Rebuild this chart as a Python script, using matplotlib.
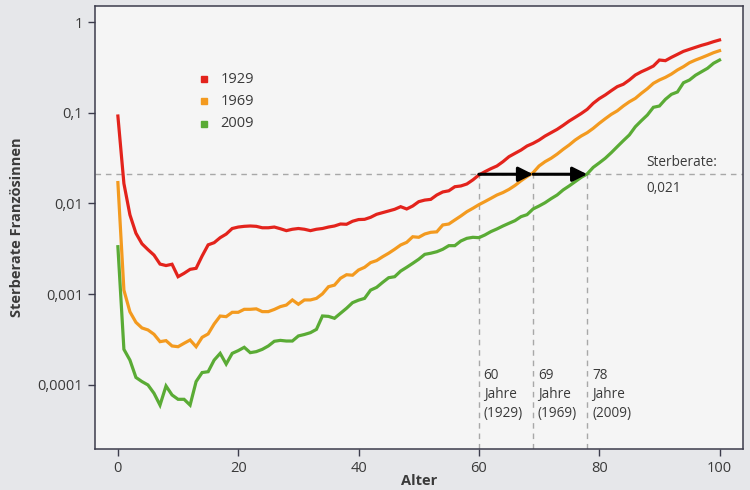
import numpy as np
import matplotlib.pyplot as plt

plt.rcParams['font.family'] = ['Open Sans', 'DejaVu Sans']

# Sterberate nach Alter (0..100 Jahre), Frauen in Frankreich
alter = np.arange(0, 101)

rate_1929 = [
    0.092, 0.0166, 0.0075, 0.0047, 0.0036, 0.0031, 0.0027, 0.00215, 0.00207, 0.00214,
    0.00156, 0.0017, 0.00188, 0.00193, 0.00264, 0.0035, 0.0037, 0.0042, 0.0046, 0.0053,
    0.0055, 0.0056, 0.00565, 0.0056, 0.0054, 0.0054, 0.0055, 0.00527, 0.00502, 0.0052,
    0.0053, 0.0052, 0.00502, 0.0052, 0.0053, 0.0055, 0.00565, 0.00594, 0.0059, 0.00637,
    0.00665, 0.00669, 0.00704, 0.0076, 0.00793, 0.00827, 0.00863, 0.00922, 0.0087, 0.00938,
    0.01047, 0.0109, 0.0111, 0.0124, 0.0134, 0.0138, 0.0153, 0.0156, 0.0164, 0.0182,
    0.0206, 0.0224, 0.0242, 0.0259, 0.0289, 0.0328, 0.0357, 0.0388, 0.043, 0.046,
    0.050, 0.0554, 0.0603, 0.0656, 0.0726, 0.081, 0.089, 0.098, 0.109, 0.127,
    0.143, 0.157, 0.175, 0.194, 0.206, 0.2295, 0.2605, 0.283, 0.303, 0.327,
    0.381, 0.375, 0.408, 0.44, 0.475, 0.50, 0.526, 0.553, 0.577, 0.607,
    0.634,
]

rate_1969 = [
    0.0170, 0.00111, 0.00064, 0.00049, 0.000425, 0.000404, 0.000362, 0.0003, 0.000308, 0.000269,
    0.000264, 0.000288, 0.000313, 0.000264, 0.000335, 0.000365, 0.00047, 0.000575, 0.000566, 0.000632,
    0.000632, 0.000682, 0.000682, 0.00069, 0.000643, 0.000643, 0.00068, 0.00073, 0.00076, 0.000865,
    0.000775, 0.000865, 0.000865, 0.0009, 0.00101, 0.00121, 0.00126, 0.0015, 0.00164, 0.00162,
    0.00185, 0.00198, 0.00223, 0.00235, 0.00259, 0.00283, 0.00313, 0.00349, 0.00373, 0.0043,
    0.00424, 0.00461, 0.00481, 0.00487, 0.0058, 0.00594, 0.00658, 0.00728, 0.00812, 0.00885,
    0.0097, 0.0105, 0.0114, 0.0124, 0.0132, 0.0143, 0.0158, 0.0178, 0.0198, 0.0218,
    0.0259, 0.0289, 0.0315, 0.035, 0.0395, 0.0441, 0.050, 0.0554, 0.0603, 0.0673,
    0.0764, 0.0859, 0.096, 0.105, 0.1186, 0.132, 0.144, 0.1637, 0.184, 0.211,
    0.2295, 0.2455, 0.267, 0.296, 0.322, 0.356, 0.381, 0.404, 0.43, 0.459,
    0.483,
]

rate_2009 = [
    0.00334, 0.000247, 0.000188, 0.000121, 0.000109, 0.0001, 0.000081, 0.00006, 0.0000975, 0.0000776,
    0.0000695, 0.0000695, 0.00006, 0.000109, 0.000137, 0.00014, 0.000188, 0.000223, 0.00017, 0.000223,
    0.000239, 0.00026, 0.000227, 0.000233, 0.000247, 0.000269, 0.000303, 0.00031, 0.000305, 0.000305,
    0.000347, 0.00036, 0.000377, 0.00041, 0.000576, 0.00057, 0.000543, 0.000617, 0.0007, 0.000807,
    0.00086, 0.0009, 0.00111, 0.00119, 0.00135, 0.00152, 0.00156, 0.0018, 0.00198, 0.00219,
    0.00243, 0.00275, 0.00283, 0.00294, 0.00313, 0.00343, 0.00343, 0.00386, 0.00413, 0.00424,
    0.0042, 0.0045, 0.0049, 0.00524, 0.00565, 0.00605, 0.00647, 0.00716, 0.00753, 0.0087,
    0.00938, 0.0102, 0.0113, 0.0124, 0.0141, 0.0156, 0.0174, 0.0194, 0.0212, 0.025,
    0.028, 0.0315, 0.0363, 0.0423, 0.0492, 0.0569, 0.0701, 0.0817, 0.0944, 0.1148,
    0.1186, 0.1406, 0.1596, 0.1694, 0.214, 0.2295, 0.259, 0.283, 0.309, 0.351,
    0.381,
]

jahrgaenge = ['1929', '1969', '2009']
farben = ['#e3231c', '#f39a1f', '#5aab35']

schwelle = 0.021
alter_schwelle = [60, 69, 78]
yticks = [1, 0.1, 0.01, 0.001, 0.0001]
ytick_labels = ['1', '0,1', '0,01', '0,001', '0,0001']

text_col = '#3a3a3a'
grau = '#a8a8a8'

fig = plt.figure(figsize=(7.5, 4.9), dpi=100, facecolor='#e6e7ea')
ax = fig.add_axes([0.1267, 0.0837, 0.864, 0.904])
ax.set_facecolor('#f5f5f5')

for werte, farbe in zip([rate_1929, rate_1969, rate_2009], farben):
    ax.plot(alter, werte, color=farbe, lw=2.3, solid_joinstyle='miter', zorder=3)

ax.set_yscale('log')
ax.set_xlim(-3.8, 103.9)
ax.set_ylim(1.97e-5, 1.5)

# Hilfslinien bei Sterberate 0,021
ax.axhline(schwelle, color=grau, lw=1, ls=(0, (4, 3.5)), zorder=1)
for a in alter_schwelle:
    ax.plot([a, a], [1.97e-5, schwelle], color=grau, lw=1, ls=(0, (4, 3.5)), zorder=1)

for a0, a1 in zip(alter_schwelle[:-1], alter_schwelle[1:]):
    ax.annotate('', xy=(a1, schwelle), xytext=(a0, schwelle),
                arrowprops=dict(arrowstyle='-|>', color='black', lw=2.2,
                                mutation_scale=22, shrinkA=0, shrinkB=0),
                zorder=4)

for a, jahr in zip(alter_schwelle, jahrgaenge):
    ax.text(a + 0.8, 1.55e-4, f'{a}\nJahre\n({jahr})', fontsize=9.8, color=text_col,
            va='top', ha='left', linespacing=1.4)

ax.text(87.8, 0.0232, 'Sterberate:', fontsize=9.8, color=text_col, va='bottom', ha='left')
ax.text(87.8, 0.0178, '0,021', fontsize=9.8, color=text_col, va='top', ha='left')

# Legende
for i, (jahr, farbe) in enumerate(zip(jahrgaenge, farben)):
    y = 0.835 - i * 0.0505
    ax.plot(0.168, y, 's', color=farbe, ms=4.5, transform=ax.transAxes, clip_on=False)
    ax.text(0.194, y, jahr, transform=ax.transAxes, fontsize=10.5, color=text_col,
            va='center', ha='left')

ax.set_yticks(yticks)
ax.set_yticklabels(ytick_labels)
ax.yaxis.set_minor_locator(plt.NullLocator())
ax.set_xticks([0, 20, 40, 60, 80, 100])

ax.tick_params(axis='both', direction='out', length=5, width=1, color='#3c3c4c',
               labelsize=10.5, labelcolor=text_col)

for s in ax.spines.values():
    s.set_color('#3c3c4c')
    s.set_linewidth(1.1)

ax.set_xlabel('Alter', fontsize=10.5, fontweight='bold', color=text_col, labelpad=-1)
ax.set_ylabel('Sterberate Französinnen', fontsize=10.5, fontweight='bold', color=text_col,
              labelpad=10)

fig.savefig('out.png', dpi=100, facecolor=fig.get_facecolor())
